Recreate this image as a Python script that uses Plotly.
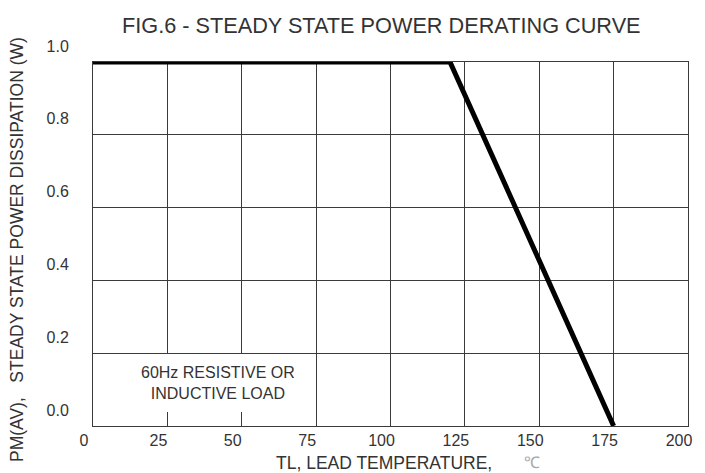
import plotly.graph_objects as go

# Data
temperature = [0, 120, 175]          # TL, lead temperature (°C)
power = [1.0, 1.0, 0.0]              # PM(AV) steady state power dissipation (W)

x_ticks = [0, 25, 50, 75, 100, 125, 150, 175, 200]
x_tick_labels = ["0", "25", "50", "75", "100", "125", "150", "175", "200"]
y_ticks = [0.0, 0.2, 0.4, 0.6, 0.8, 1.0]
y_tick_labels = ["0.0", "0.2", "0.4", "0.6", "0.8", "1.0"]

title_text = "FIG.6 - STEADY STATE POWER DERATING CURVE"
y_title_text = "PM(AV),   STEADY STATE POWER DISSIPATION (W)"
x_title_text = "TL, LEAD TEMPERATURE,"
unit_text = "℃"
note_text = "60Hz RESISTIVE OR<br>INDUCTIVE LOAD"

FONT = "Liberation Sans, Arial, sans-serif"
TXT = "#333333"
GRID = "#3a3a3a"

fig = go.Figure()
fig.add_trace(go.Scatter(
    x=temperature, y=power, mode="lines",
    line=dict(color="black", width=5),
    showlegend=False, hoverinfo="skip",
))

fig.update_layout(
    width=705, height=473,
    margin=dict(l=93, r=17, t=62, b=47),
    paper_bgcolor="white", plot_bgcolor="white",
    font=dict(family=FONT, color=TXT),
    showlegend=False,
)

fig.update_xaxes(
    range=[0, 200], tickvals=x_ticks, ticktext=x_tick_labels,
    showgrid=True, gridcolor=GRID, gridwidth=1,
    showline=True, linecolor=GRID, linewidth=1, mirror=True,
    zeroline=False, ticks="",
    tickfont=dict(size=16, color=TXT, family=FONT),
    ticklabelshift=-9, ticklabelstandoff=0,
)
fig.update_yaxes(
    range=[0, 1.0], tickvals=y_ticks, ticktext=y_tick_labels,
    showgrid=True, gridcolor=GRID, gridwidth=1,
    showline=True, linecolor=GRID, linewidth=1, mirror=True,
    zeroline=False, ticks="",
    tickfont=dict(size=16, color=TXT, family=FONT),
    ticklabelshift=-16, ticklabelstandoff=20,
)

annotations = [
    dict(text=title_text, xref="paper", yref="paper", x=0.485, y=1.099,
         xanchor="center", yanchor="middle", showarrow=False,
         font=dict(size=21.7, color=TXT, family=FONT)),
    dict(text=y_title_text, xref="paper", yref="paper", x=-0.1277, y=0.4835,
         xanchor="center", yanchor="middle", showarrow=False, textangle=-90,
         font=dict(size=17.5, color=TXT, family=FONT)),
    dict(text=x_title_text, xref="paper", yref="paper", x=0.489, y=-0.1016,
         xanchor="center", yanchor="middle", showarrow=False,
         font=dict(size=17.5, color=TXT, family=FONT)),
    dict(text=unit_text, xref="paper", yref="paper", x=0.738, y=-0.1016,
         xanchor="center", yanchor="middle", showarrow=False,
         font=dict(size=16, color="#a8a8a8", family=FONT)),
    dict(text=note_text, xref="paper", yref="paper", x=(218 - 93) / 595, y=(426 - 383) / 364,
         xanchor="center", yanchor="middle", showarrow=False,
         bgcolor="white", borderpad=10, borderwidth=0,
         font=dict(size=16, color=TXT, family=FONT)),
]
fig.update_layout(annotations=annotations)

fig.write_html("out.html", config={"displayModeBar": False},
               post_script="document.body.style.margin='0';")
